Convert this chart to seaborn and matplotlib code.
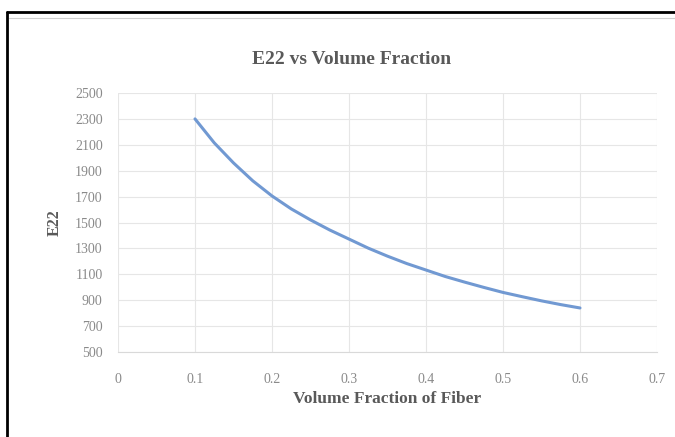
import matplotlib
matplotlib.use("Agg")
import matplotlib.pyplot as plt
import seaborn as sns
import pandas as pd
from matplotlib.lines import Line2D

volume_fraction = [0.100, 0.125, 0.150, 0.175, 0.200, 0.225, 0.250, 0.275, 0.300, 0.325, 0.350,
                   0.375, 0.400, 0.425, 0.450, 0.475, 0.500, 0.525, 0.550, 0.575, 0.600]
e22_values = [2300, 2115, 1960, 1822, 1705, 1605, 1520, 1442, 1372, 1302, 1240,
              1183, 1133, 1083, 1040, 999, 960, 927, 895, 866, 840]
x_ticks = [0, 0.1, 0.2, 0.3, 0.4, 0.5, 0.6, 0.7]
y_ticks = [500, 700, 900, 1100, 1300, 1500, 1700, 1900, 2100, 2300, 2500]

sns.set_theme(style="white")
plt.rcParams['font.family'] = ['Liberation Serif', 'DejaVu Serif']

df = pd.DataFrame({"Vf": volume_fraction, "E22": e22_values})

fig = plt.figure(figsize=(6.75, 4.37), dpi=100)
W, H = 675, 437
ax = fig.add_axes([118 / W, 1 - 352 / H, (657 - 118) / W, (352 - 93) / H])

sns.lineplot(data=df, x="Vf", y="E22", ax=ax, color="#7199d2", linewidth=2.2, sort=True)

ax.set_xlim(0, 0.7)
ax.set_ylim(500, 2500)
ax.set_xticks(x_ticks)
ax.set_xticklabels([("%g" % t) for t in x_ticks])
ax.set_yticks(y_ticks)
ax.set_yticklabels([str(t) for t in y_ticks])
ax.grid(True, color="#e6e6e6", linewidth=0.8)
ax.set_axisbelow(True)
for s in ["top", "right", "left"]:
    ax.spines[s].set_visible(False)
ax.spines["bottom"].set_color("#d9d9d9")
ax.spines["bottom"].set_linewidth(0.8)
ax.tick_params(axis="x", length=0, labelsize=10, labelcolor="#8a8a8a", pad=15)
ax.tick_params(axis="y", length=0, labelsize=10, labelcolor="#8a8a8a", pad=11)

ax.set_xlabel("Volume Fraction of Fiber", fontsize=12.5, fontweight="bold", color="#595959", labelpad=4)
ax.set_ylabel("E22", fontsize=11.5, fontweight="bold", color="#595959", labelpad=9)
fig.text(352 / W, 1 - 60 / H, "E22 vs Volume Fraction", ha="center", va="center",
         fontsize=14, fontweight="bold", color="#595959")

# screenshot frame
fig.add_artist(Line2D([7 / W, 1], [1 - 12 / H, 1 - 12 / H], transform=fig.transFigure, color="black", linewidth=2.0))
fig.add_artist(Line2D([7 / W, 7 / W], [0, 1 - 12 / H], transform=fig.transFigure, color="black", linewidth=2.0))
fig.add_artist(Line2D([9 / W, 1], [1 - 18 / H, 1 - 18 / H], transform=fig.transFigure, color="#d0d0d0", linewidth=0.8))

fig.savefig("out.png", dpi=100)
